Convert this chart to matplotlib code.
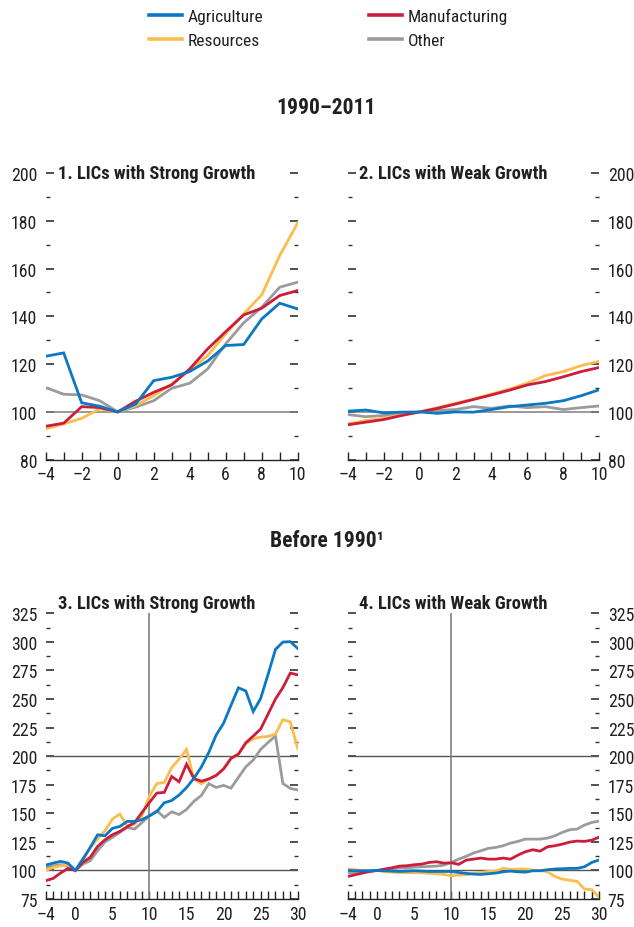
import matplotlib
matplotlib.use("Agg")
import matplotlib.pyplot as plt
from matplotlib.lines import Line2D
from matplotlib.ticker import MultipleLocator

plt.rcParams['font.family'] = ['Roboto Condensed', 'DejaVu Sans']

# ---------------- data ----------------
series_names = ["Agriculture", "Resources", "Manufacturing", "Other"]
colors = {"Agriculture": "#0a78c2", "Resources": "#fbbd4e",
          "Manufacturing": "#cc1d3c", "Other": "#9b9b9b"}

years_a = list(range(-4, 11))
p1_agriculture = [123.3, 124.7, 103.8, 102.4, 100, 103.3, 113.1, 114.5, 116.9, 121.3, 127.8, 128.2, 138.9, 145.5, 143.1]
p1_manufacturing = [94.0, 95.3, 102.2, 101.8, 100, 104.5, 108.2, 111.3, 118.0, 126.4, 133.6, 140.6, 143.4, 148.7, 150.8]
p1_resources = [92.9, 95.0, 97.3, 101.3, 100, 102.7, 106.8, 111.7, 117.3, 123.6, 132.7, 141.0, 149.0, 165.4, 179.1]
p1_other = [110.2, 107.4, 107.1, 104.7, 100, 102.0, 104.7, 109.9, 112.0, 118.0, 128.5, 137.3, 143.8, 152.2, 154.3]

p2_agriculture = [100.3, 100.8, 99.6, 99.9, 100, 99.4, 100.0, 99.9, 101.0, 102.2, 102.9, 103.6, 104.7, 106.8, 109.3]
p2_manufacturing = [94.6, 95.7, 96.8, 98.5, 100, 101.5, 103.3, 105.2, 107.1, 109.1, 111.3, 112.7, 114.7, 116.9, 118.6]
p2_resources = [95.0, 96.4, 97.3, 98.7, 100, 101.8, 103.6, 105.4, 107.5, 109.6, 112.1, 115.2, 116.9, 119.4, 121.2]
p2_other = [98.9, 98.0, 98.5, 99.2, 100, 100.6, 101.0, 102.2, 101.5, 102.5, 101.8, 102.2, 101.0, 101.8, 102.5]

years_b = list(range(-4, 31))
p3_agriculture = [104.7, 106.4, 107.9, 106.4, 100, 109.9, 120.0, 131.2, 130.3, 136.8, 138.5, 142.9, 142.9, 144.5, 147.8,
                  151.5, 159.2, 161.2, 166.0, 172.5, 180.7, 190.5, 203.2, 218.5, 228.8, 244.5, 259.8, 257.0, 239.0, 250.5,
                  271.5, 293.4, 299.8, 300.2, 294.3]
p3_manufacturing = [91.0, 93.0, 97.7, 101.8, 100, 107.0, 111.4, 121.0, 126.8, 131.2, 134.1, 138.2, 142.0, 150.8, 159.5,
                    167.7, 168.3, 182.2, 177.6, 193.0, 180.3, 178.1, 180.0, 183.2, 188.7, 198.0, 201.8, 211.7, 217.6, 223.7,
                    236.8, 250.0, 260.0, 272.7, 271.1]
p3_resources = [100.0, 102.6, 104.0, 104.7, 100, 108.5, 120.0, 127.4, 134.7, 145.0, 149.3, 139.0, 140.5, 147.8, 165.3,
                176.0, 177.0, 190.0, 197.4, 206.0, 180.0, 175.8, 180.0, 182.8, 189.3, 198.0, 201.8, 211.0, 215.0, 216.7,
                217.3, 219.3, 231.9, 230.1, 206.8]
p3_other = [102.6, 104.0, 105.0, 104.0, 100, 105.5, 108.5, 117.2, 125.0, 128.9, 133.3, 137.6, 136.2, 142.0, 147.8,
            152.2, 146.4, 151.3, 148.9, 153.4, 160.5, 165.6, 175.9, 172.6, 174.4, 172.0, 181.4, 190.7, 196.6, 205.9,
            212.0, 217.6, 176.0, 171.8, 170.4]

p4_agriculture = [100.0, 99.7, 99.7, 99.7, 100, 99.7, 99.4, 99.1, 99.4, 99.7, 99.4, 99.1, 99.1, 99.1, 99.1,
                  98.2, 97.4, 96.8, 96.5, 97.1, 97.7, 98.8, 99.4, 98.8, 98.5, 99.7, 99.7, 100.6, 101.2, 101.5,
                  101.8, 101.8, 103.2, 107.0, 109.3]
p4_manufacturing = [94.7, 96.2, 97.7, 99.1, 100, 101.2, 102.3, 103.8, 104.1, 105.0, 105.5, 107.0, 107.6, 106.4, 106.7,
                    105.3, 109.0, 109.9, 110.8, 109.9, 109.9, 110.8, 109.9, 113.4, 116.3, 118.1, 116.9, 120.7, 121.6, 123.0,
                    124.8, 125.7, 125.4, 126.5, 129.2]
p4_resources = [101.2, 100.6, 100.0, 99.4, 100, 98.8, 98.5, 98.2, 98.0, 98.0, 98.0, 97.4, 97.1, 96.5, 95.3,
                95.9, 96.2, 97.4, 98.2, 99.1, 99.4, 101.8, 100.9, 101.2, 101.2, 100.3, 100.0, 98.8, 94.7, 92.4,
                91.5, 90.4, 83.7, 83.1, 76.4]
p4_other = [97.7, 98.5, 99.1, 99.4, 100, 100.3, 101.2, 102.3, 102.3, 102.9, 103.2, 103.5, 103.8, 104.7, 107.0,
            109.9, 112.3, 115.2, 117.2, 119.3, 120.1, 121.6, 123.9, 125.4, 127.4, 127.4, 127.4, 128.3, 130.3, 133.3,
            135.6, 136.2, 139.7, 142.0, 143.2]

panels = [
    dict(title="1. LICs with Strong Growth", x=years_a,
         data={"Agriculture": p1_agriculture, "Resources": p1_resources,
               "Manufacturing": p1_manufacturing, "Other": p1_other}),
    dict(title="2. LICs with Weak Growth", x=years_a,
         data={"Agriculture": p2_agriculture, "Resources": p2_resources,
               "Manufacturing": p2_manufacturing, "Other": p2_other}),
    dict(title="3. LICs with Strong Growth", x=years_b,
         data={"Agriculture": p3_agriculture, "Resources": p3_resources,
               "Manufacturing": p3_manufacturing, "Other": p3_other}),
    dict(title="4. LICs with Weak Growth", x=years_b,
         data={"Agriculture": p4_agriculture, "Resources": p4_resources,
               "Manufacturing": p4_manufacturing, "Other": p4_other}),
]

draw_order = ["Other", "Resources", "Manufacturing", "Agriculture"]

# ---------------- figure ----------------
W, H = 634, 928
fig = plt.figure(figsize=(W / 100, H / 100), dpi=100)

def frac(x0, y0, x1, y1):
    return [x0 / W, 1 - y1 / H, (x1 - x0) / W, (y1 - y0) / H]

rects = [frac(45.7, 174, 297.7, 460.7), frac(347.7, 174, 599.3, 460.7),
         frac(45.7, 614.3, 297.7, 900), frac(347.7, 614.3, 599.3, 900)]

FS = 12.8
TFS = 13.3
TXT = "#231f20"
for i, (p, r) in enumerate(zip(panels, rects)):
    ax = fig.add_axes(r)
    top_row = i < 2
    for name in draw_order:
        ax.plot(p["x"], p["data"][name], color=colors[name], lw=2.0,
                solid_joinstyle='miter', zorder=3)
    if top_row:
        ax.set_xlim(-4, 10)
        ax.set_ylim(80, 200)
        ax.axhline(100, color="#7f7f7f", lw=1.1, zorder=2)
        ax.yaxis.set_major_locator(MultipleLocator(20))
        ax.yaxis.set_minor_locator(MultipleLocator(10))
        ax.set_xticks(range(-4, 11))
        ax.set_xticklabels([f"{v}".replace("-", "\u2013") if v % 2 == 0 else "" for v in range(-4, 11)])
    else:
        ax.set_xlim(-4, 30)
        ax.set_ylim(75, 325)
        ax.axhline(100, color="#555555", lw=1.0, zorder=2)
        ax.axhline(200, color="#555555", lw=1.0, zorder=2)
        ax.axvline(10, color="#777777", lw=1.1, zorder=2)
        ax.yaxis.set_major_locator(MultipleLocator(25))
        ax.yaxis.set_minor_locator(MultipleLocator(12.5))
        ax.set_xticks(range(-4, 31))
        lab = {-4: "\u20134", 0: "0", 5: "5", 10: "10", 15: "15", 20: "20", 25: "25", 30: "30"}
        ax.set_xticklabels([lab.get(v, "") for v in range(-4, 31)])

    for s in ["top", "left", "right"]:
        ax.spines[s].set_visible(False)
    ax.spines["bottom"].set_color("#222222")
    ax.spines["bottom"].set_linewidth(1.0)
    ax.tick_params(axis="x", direction="in", length=6, width=1.0, color="#222222",
                   labelsize=FS, pad=4, labelcolor=TXT)
    left_labels = i % 2 == 0
    ax.tick_params(axis="y", which="major", direction="in", length=6, width=1.2,
                   color="#333333", left=True, right=True,
                   labelleft=left_labels, labelright=not left_labels,
                   labelsize=FS, pad=6, labelcolor=TXT)
    ax.tick_params(axis="y", which="minor", direction="in", length=3, width=1.0,
                   color="#333333", left=True, right=True)
    ax.patch.set_alpha(0)

    tx = 0.05 if i % 2 == 0 else 0.045
    ty = 1.0 if top_row else 1.035
    ax.text(tx, ty, p["title"], transform=ax.transAxes, fontsize=TFS,
            fontweight="bold", va="center", ha="left", color=TXT)

fig.text(0.515, 1 - 108 / H, "1990\u20132011", ha="center", va="center",
         fontsize=15.5, fontweight="bold", color=TXT)
fig.text(0.515, 1 - 541 / H, "Before 1990\u00b9", ha="center", va="center",
         fontsize=15.5, fontweight="bold", color=TXT)

handles = [Line2D([], [], color=colors[n], lw=2.6) for n in series_names]
leg = fig.legend(handles, series_names, ncol=2, loc="upper left",
                 bbox_to_anchor=(149 / W, 1 - 9 / H), frameon=False,
                 fontsize=12.5, handlelength=1.9, handletextpad=0.35,
                 columnspacing=6.05, labelspacing=0.5, borderaxespad=0,
                 borderpad=0)
for t in leg.get_texts():
    t.set_color(TXT)

fig.savefig("out.png", dpi=100)
